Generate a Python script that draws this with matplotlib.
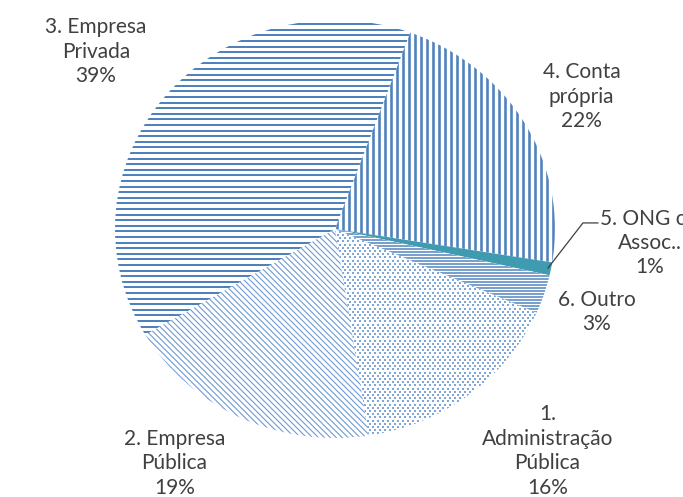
import numpy as np
import matplotlib
matplotlib.use("Agg")
import matplotlib.pyplot as plt
from matplotlib.collections import LineCollection

# Situação profissional (%)
categorias = ["1.\nAdministração\nPública", "2. Empresa\nPública", "3. Empresa\nPrivada",
              "4. Conta\nprópria", "5. ONG ou\nAssoc..", "6. Outro"]
valores = [16, 19, 39, 22, 1, 3]

# label centres (data units of the pie axes)
label_pos = [(0.965, -1.062), (-0.73, -1.12), (-1.086, 0.847),
             (1.12, 0.632), (1.432, -0.067), (1.19, -0.397)]

azul = "#4F81BD"
azul_claro = "#6E9AD3"
azul_pontos = "#7FA6DA"
teal = "#3F9BB0"
texto = "#404040"

W, H, DPI = 683, 497, 100
cx, cy, rx, ry = 335, 229, 220, 209   # pie centre / radii in pixels

fig = plt.figure(figsize=(W / DPI, H / DPI), dpi=DPI)
ax = fig.add_axes([(cx - rx) / W, (H - cy - ry) / H, 2 * rx / W, 2 * ry / H])

wedges, _ = ax.pie(valores, startangle=70 + 360 * sum(valores[:3]) / 100,
                   counterclock=False, radius=1,
                   wedgeprops=dict(linewidth=0, facecolor="white"))
ax.set_aspect("auto")
ax.set_xlim(-1, 1)
ax.set_ylim(-1, 1)
ax.axis("off")


def px_lines(direction, spacing, extent=260):
    # parallel lines in pixel offsets from the centre, converted to data units
    d = np.array(direction, float)
    d /= np.linalg.norm(d)
    n = np.array([-d[1], d[0]])
    segs = []
    for k in np.arange(-extent, extent, spacing):
        p0 = n * k - d * extent
        p1 = n * k + d * extent
        segs.append([(p0[0] / rx, p0[1] / ry), (p1[0] / rx, p1[1] / ry)])
    return segs


def hatch(wedge, direction, spacing, lw_px, color):
    lc = LineCollection(px_lines(direction, spacing), colors=color,
                        linewidths=lw_px * 72 / DPI, zorder=3)
    ax.add_collection(lc)
    lc.set_clip_path(wedge)


def dots(wedge, dx, dy, size_px, color):
    xs, ys = [], []
    for j, y in enumerate(np.arange(-ry - 5, ry + 5, dy)):
        off = (dx / 2) * (j % 2)
        for x in np.arange(-rx - 5, rx + 5, dx):
            xs.append((x + off) / rx)
            ys.append(y / ry)
    sc = ax.scatter(xs, ys, s=(size_px * 72 / DPI) ** 2, marker="s",
                    color=color, linewidths=0, zorder=3)
    sc.set_clip_path(wedge)


dots(wedges[0], 5.0, 3.2, 1.6, azul_pontos)
hatch(wedges[1], (1, -1), 4.2, 1.1, azul_claro)
hatch(wedges[2], (1, 0), 5.6, 2.0, azul)
hatch(wedges[3], (0, 1), 6.0, 2.6, azul)
wedges[4].set_facecolor(teal)
hatch(wedges[5], (1, 0), 3.0, 1.5, azul)

for nome, v, (x, y) in zip(categorias, valores, label_pos):
    ax.text(x, y, f"{nome}\n{v}%", ha="center", va="center", fontsize=15,
            family="Lato", color=texto, linespacing=1.28, clip_on=False)

# leader line for the small ONG slice
ax.plot([0.968, 1.127, 1.195], [-0.187, 0.029, 0.029], color=texto,
        linewidth=0.9, clip_on=False, zorder=4)

fig.savefig("out.png", dpi=DPI)
